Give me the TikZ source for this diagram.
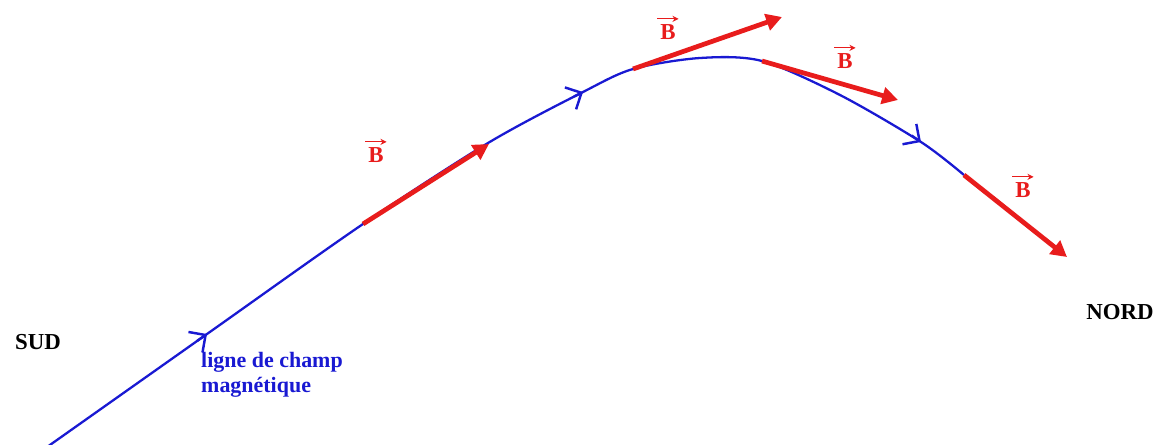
\documentclass[tikz,border=0pt]{standalone}
\usepackage{fontspec}
\setmainfont{Liberation Serif}
\usetikzlibrary{arrows.meta}
\definecolor{fieldblue}{RGB}{25,25,210}
\definecolor{vecred}{RGB}{232,28,28}
\begin{document}
\begin{tikzpicture}[x=0.02cm,y=-0.02cm,
  field/.style={draw=fieldblue, line width=1.3pt},
  barb/.style={draw=fieldblue, line width=1.4pt, -{Straight Barb[length=7pt,width=14pt]}},
  vec/.style={draw=vecred, line width=2.7pt, -{Triangle[length=9pt,width=9.5pt]}},
  blab/.style={text=vecred, inner sep=0pt, font=\bfseries\fontsize{13}{15}\selectfont},
  bover/.style={draw=vecred, line width=0.7pt, -{Stealth[length=3.5pt,width=3.5pt]}},
  pole/.style={text=black, font=\bfseries\fontsize{13}{15}\selectfont},
  flab/.style={text=fieldblue, align=left, font=\bfseries\fontsize{12.5}{14}\selectfont}]
\useasboundingbox (0,0) rectangle (1170,444);
% points on the field line
\coordinate (p0) at (40,452);
\coordinate (p1) at (207,334);
\coordinate (p2) at (363,224);
\coordinate (p3) at (488,143);
\coordinate (p4) at (583,92);
\coordinate (p5) at (633,69);
\coordinate (p6) at (700,58);
\coordinate (p7) at (762,61);
\coordinate (p8) at (840,95);
\coordinate (p9) at (921,142);
\coordinate (p10) at (964,175);
\draw[field] plot[smooth, tension=0.5] coordinates {(p0) (p1) (p2) (p3) (p4) (p5) (p6) (p7) (p8) (p9) (p10)};
% direction marks on the field line
\coordinate (a1) at (197,341);
\coordinate (a2) at (574,96.6);
\coordinate (a3) at (911.6,135.6);
\draw[barb] (a1) -- (p1);
\draw[barb] (a2) -- (p4);
\draw[barb] (a3) -- (p9);
% field vectors
\coordinate (v1) at (489,144);
\coordinate (v2) at (782,17);
\coordinate (v3) at (898,100);
\coordinate (v4) at (1067,257);
\draw[vec] (p2) -- (v1);
\draw[vec] (p5) -- (v2);
\draw[vec] (p7) -- (v3);
\draw[vec] (p10) -- (v4);
% labels
\node[blab] (b1) at (376,155) {B};
\node[blab] (b2) at (668,32) {B};
\node[blab] (b3) at (845,61) {B};
\node[blab] (b4) at (1023,190) {B};
\foreach \b in {b1,b2,b3,b4}{
  \draw[bover] ([xshift=-1.5pt,yshift=3pt]\b.north west) -- ([xshift=1.5pt,yshift=3pt]\b.north east);
}
\node[pole] (sud) at (38,342) {SUD};
\node[pole] (nord) at (1120,312) {NORD};
\node[flab, anchor=west] (fl) at (195,375) {ligne de champ\\magnétique};
\end{tikzpicture}
\end{document}
